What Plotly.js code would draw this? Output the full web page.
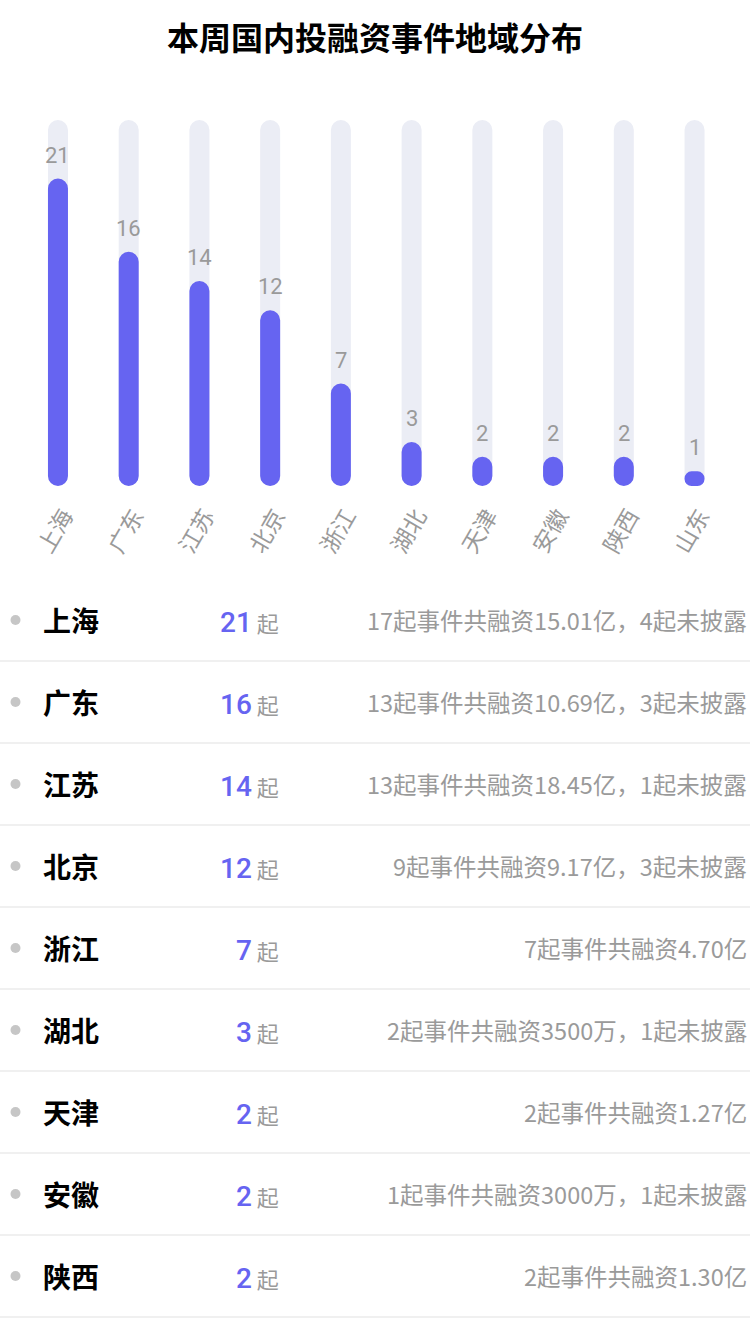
<!DOCTYPE html>
<html>
<head>
<meta charset="utf-8">
<script src="https://cdn.plot.ly/plotly-3.0.1.min.js"></script>
<style>
html,body{margin:0;padding:0;background:#fff;}
#chart{width:750px;height:1334px;}
</style>
</head>
<body>
<div id="chart"></div>
<script>
// ---- data ----
var regions = ['上海','广东','江苏','北京','浙江','湖北','天津','安徽','陕西','山东'];
var counts = [21,16,14,12,7,3,2,2,2,1];
var trackMax = 25;
var tableRegions = ['上海','广东','江苏','北京','浙江','湖北','天津','安徽','陕西'];
var tableCounts = [21,16,14,12,7,3,2,2,2];
var tableDesc = [
  '17起事件共融资15.01亿，4起未披露',
  '13起事件共融资10.69亿，3起未披露',
  '13起事件共融资18.45亿，1起未披露',
  '9起事件共融资9.17亿，3起未披露',
  '7起事件共融资4.70亿',
  '2起事件共融资3500万，1起未披露',
  '2起事件共融资1.27亿',
  '1起事件共融资3000万，1起未披露',
  '2起事件共融资1.30亿'
];
var titleText = '本周国内投融资事件地域分布';
var unitText = '起';

// ---- style ----
var W = 750, H = 1334;
var PURPLE = '#6664f1', TRACK = '#ebedf5', GRAY = '#9a9a9a';
var CJK = '"Noto Sans CJK SC", "Noto Sans", sans-serif';
var barW = 0.283;
function px(x){return x / W;}
function py(y){return 1 - y / H;}

var tracks = regions.map(function(){return trackMax;});
var zeros = regions.map(function(){return 0;});

var traces = [
  {type:'bar', x:regions, y:tracks, base:zeros, width:barW,
   marker:{color:TRACK, cornerradius:10}, hoverinfo:'skip'},
  {type:'bar', x:regions, y:counts, base:zeros, width:barW,
   marker:{color:PURPLE, cornerradius:10}, hoverinfo:'skip'}
];

var annotations = [];
regions.forEach(function(r, i){
  annotations.push({x:r, y:counts[i], xref:'x', yref:'y', text:String(counts[i]),
    showarrow:false, yanchor:'bottom', yshift:9,
    font:{family:'Roboto, "Noto Sans", sans-serif', size:22, color:GRAY}});
});

var shapes = [];
tableRegions.forEach(function(r, i){
  var cy = 620 + 82*i;
  shapes.push({type:'circle', xref:'paper', yref:'paper',
    x0:px(10.5), x1:px(20.5), y0:py(cy-5), y1:py(cy+5),
    fillcolor:'#c6c6c6', line:{width:0}});
  annotations.push({xref:'paper', yref:'paper', x:px(41), y:py(cy), text:'<b>'+r+'</b>',
    showarrow:false, xanchor:'left', yanchor:'middle',
    font:{family:CJK, size:28, color:'#000'}});
  annotations.push({xref:'paper', yref:'paper', x:px(281), y:py(cy+2),
    text:'<span style="color:'+PURPLE+';font-size:28px;font-weight:500;font-family:Roboto">'+tableCounts[i]+'</span> <span style="color:'+GRAY+';font-size:22px">'+unitText+'</span>',
    showarrow:false, xanchor:'right', yanchor:'middle',
    font:{family:CJK, size:22, color:GRAY}});
  annotations.push({xref:'paper', yref:'paper', x:px(749), y:py(cy), text:tableDesc[i],
    showarrow:false, xanchor:'right', yanchor:'middle',
    font:{family:CJK, size:23.5, color:GRAY}});
  var ly = 661 + 82*i;
  shapes.push({type:'line', xref:'paper', yref:'paper', x0:0, x1:1, y0:py(ly), y1:py(ly),
    line:{color:'#f0f0f0', width:2}});
});

var layout = {
  width:W, height:H,
  margin:{l:0, r:0, t:0, b:0},
  paper_bgcolor:'#fff', plot_bgcolor:'rgba(0,0,0,0)',
  barmode:'overlay',
  showlegend:false,
  title:{text:'<b>'+titleText+'</b>', x:0.5, xanchor:'center', y:py(39), yanchor:'middle',
    font:{family:CJK, size:32, color:'#000'}},
  xaxis:{domain:[px(22.6), px(729.9)], anchor:'y', fixedrange:true,
    showgrid:false, zeroline:false, showline:false, ticks:'', ticklabelstandoff:11,
    ticklabelshift:6,
    tickangle:-60, tickfont:{family:CJK, size:23, color:GRAY}},
  yaxis:{domain:[py(486), py(120)], range:[0, trackMax], fixedrange:true,
    showgrid:false, zeroline:false, showline:false, showticklabels:false},
  annotations:annotations,
  shapes:shapes,
  font:{family:CJK}
};

Plotly.newPlot('chart', traces, layout, {displayModeBar:false, staticPlot:true});
</script>
</body>
</html>
